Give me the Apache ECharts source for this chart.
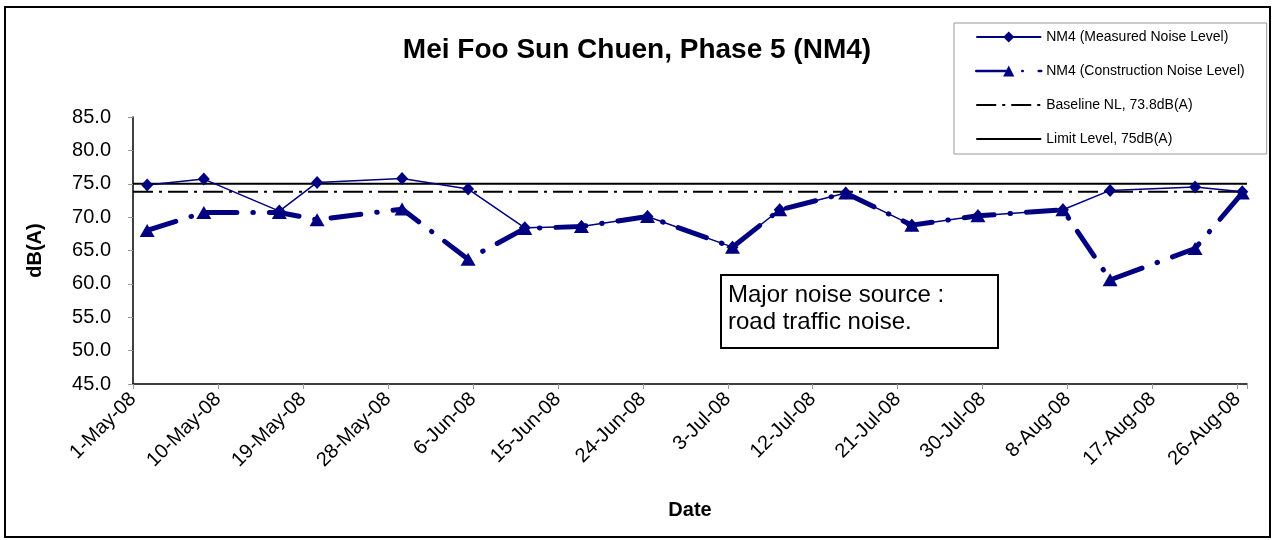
<!DOCTYPE html>
<html>
<head>
<meta charset="utf-8">
<script src="https://cdn.jsdelivr.net/npm/echarts@6/dist/echarts.min.js"></script>
<style>
html, body { margin: 0; padding: 0; background: #fff; }
#chart { width: 1274px; height: 540px; }
</style>
</head>
<body>
<div id="chart"></div>
<script>
// sampling dates and levels
var sampleDates = ['2-May-08', '8-May-08', '16-May-08', '20-May-08', '29-May-08', '5-Jun-08',
    '11-Jun-08', '17-Jun-08', '24-Jun-08', '3-Jul-08', '8-Jul-08', '15-Jul-08',
    '22-Jul-08', '29-Jul-08', '7-Aug-08', '12-Aug-08', '21-Aug-08', '26-Aug-08'];
var measuredLevel = [74.8, 75.7, 70.9, 75.2, 75.8, 74.2, 68.4, 68.6, 70.1, 65.5, 71.1, 73.6,
    68.8, 70.2, 71.1, 74.0, 74.5, 73.8];
var constructionLevel = [68.0, 70.7, 70.7, 69.6, 71.2, 63.7, 68.3, 68.6, 70.1, 65.5, 71.1, 73.6,
    68.8, 70.2, 71.1, 60.6, 65.3, 73.6];
var baselineLevel = 73.8;
var limitLevel = 75;
var xTickLabels = ['1-May-08', '10-May-08', '19-May-08', '28-May-08', '6-Jun-08', '15-Jun-08',
    '24-Jun-08', '3-Jul-08', '12-Jul-08', '21-Jul-08', '30-Jul-08', '8-Aug-08', '17-Aug-08', '26-Aug-08'];
var seriesNames = ['NM4 (Measured Noise Level)', 'NM4 (Construction Noise Level)',
    'Baseline NL, 73.8dB(A)', 'Limit Level, 75dB(A)'];

var FONT = '"Liberation Sans", Arial, sans-serif';
var NAVY = '#000080';
var MONTHS = ['Jan', 'Feb', 'Mar', 'Apr', 'May', 'Jun', 'Jul', 'Aug', 'Sep', 'Oct', 'Nov', 'Dec'];

// days since 1-May-08
function dayOffset(s) {
    var p = s.split('-');
    var t = Date.UTC(2000 + (+p[2]), MONTHS.indexOf(p[1]), +p[0]);
    return Math.round((t - Date.UTC(2008, 4, 1)) / 86400000);
}

// excel puts the points between tick marks, half a day in
function pairs(values) {
    return values.map(function (v, i) { return [dayOffset(sampleDates[i]) + 0.5, v]; });
}

var axisEnd = dayOffset(xTickLabels[xTickLabels.length - 1]) + 1;

var chart = echarts.init(document.getElementById('chart'));
chart.setOption({
    animation: false,
    textStyle: { fontFamily: FONT, color: '#000' },
    title: {
        text: 'Mei Foo Sun Chuen, Phase 5 (NM4)',
        left: 'center',
        top: 31,
        textStyle: { fontFamily: FONT, fontSize: 28, fontWeight: 'bold', color: '#000' }
    },
    legend: {
        orient: 'vertical',
        left: 954,
        top: 23,
        padding: [7, 22, 8, 21],
        itemGap: 20,
        itemWidth: 65,
        itemHeight: 14,
        borderColor: '#999',
        borderWidth: 1,
        textStyle: { fontFamily: FONT, fontSize: 14, color: '#000' },
        data: [
            { name: seriesNames[0] },
            { name: seriesNames[1], lineStyle: { width: 2.5 } },
            { name: seriesNames[2], itemStyle: { opacity: 0 } },
            { name: seriesNames[3], itemStyle: { opacity: 0 } }
        ]
    },
    grid: { left: 133, right: 27, top: 117, bottom: 156, containLabel: false },
    xAxis: {
        type: 'value',
        min: 0,
        max: axisEnd,
        interval: 9,
        name: 'Date',
        nameLocation: 'middle',
        nameGap: 116,
        nameTextStyle: { fontFamily: FONT, fontSize: 20, fontWeight: 'bold', color: '#000' },
        axisLine: { onZero: false, lineStyle: { color: '#000', width: 1.5 } },
        axisTick: { length: 5, lineStyle: { color: '#999' } },
        splitLine: { show: false },
        axisLabel: {
            rotate: 45,
            margin: 12,
            fontSize: 20,
            color: '#000',
            fontFamily: FONT,
            formatter: function (v) { return v % 9 === 0 ? (xTickLabels[v / 9] || '') : ''; }
        }
    },
    yAxis: {
        type: 'value',
        min: 45,
        max: 85,
        interval: 5,
        name: 'dB(A)',
        nameLocation: 'middle',
        nameGap: 88,
        nameTextStyle: { fontFamily: FONT, fontSize: 20, fontWeight: 'bold', color: '#000' },
        axisLine: { show: true, lineStyle: { color: '#000', width: 1.5 } },
        axisTick: { show: true, length: 5, lineStyle: { color: '#999' } },
        splitLine: { show: false },
        axisLabel: {
            margin: 22,
            fontSize: 20,
            color: '#000',
            fontFamily: FONT,
            formatter: function (v) { return v.toFixed(1); }
        }
    },
    series: [
        {
            name: seriesNames[0],
            type: 'line',
            z: 3,
            data: pairs(measuredLevel),
            symbol: 'diamond',
            symbolSize: [12, 13],
            color: NAVY,
            itemStyle: { color: NAVY },
            lineStyle: { color: NAVY, width: 1.5 }
        },
        {
            name: seriesNames[1],
            type: 'line',
            z: 4,
            data: pairs(constructionLevel),
            symbol: 'triangle',
            symbolSize: [15, 13],
            color: NAVY,
            itemStyle: { color: NAVY },
            lineStyle: { color: NAVY, width: 5, type: [30, 16, 0.5, 16], cap: 'round' }
        },
        {
            name: seriesNames[2],
            type: 'line',
            z: 2,
            data: [[0, baselineLevel], [axisEnd, baselineLevel]],
            symbol: 'none',
            color: '#000',
            lineStyle: { color: '#000', width: 2, type: [20, 6, 3, 6] }
        },
        {
            name: seriesNames[3],
            type: 'line',
            z: 2,
            data: [[0, limitLevel], [axisEnd, limitLevel]],
            symbol: 'none',
            color: '#000',
            lineStyle: { color: '#000', width: 2 }
        }
    ],
    graphic: [
        {
            type: 'rect',
            silent: true,
            shape: { x: 5, y: 7, width: 1265, height: 530 },
            style: { fill: 'none', stroke: '#000', lineWidth: 2 }
        },
        {
            type: 'rect',
            silent: true,
            shape: { x: 721, y: 275, width: 277, height: 73 },
            style: { fill: '#fff', stroke: '#000', lineWidth: 2 },
            z: 10
        },
        {
            type: 'text',
            silent: true,
            left: 728,
            top: 282,
            z: 11,
            style: {
                text: 'Major noise source :\nroad traffic noise.',
                font: '24px ' + FONT,
                lineHeight: 27,
                fill: '#000'
            }
        }
    ]
});
</script>
</body>
</html>
